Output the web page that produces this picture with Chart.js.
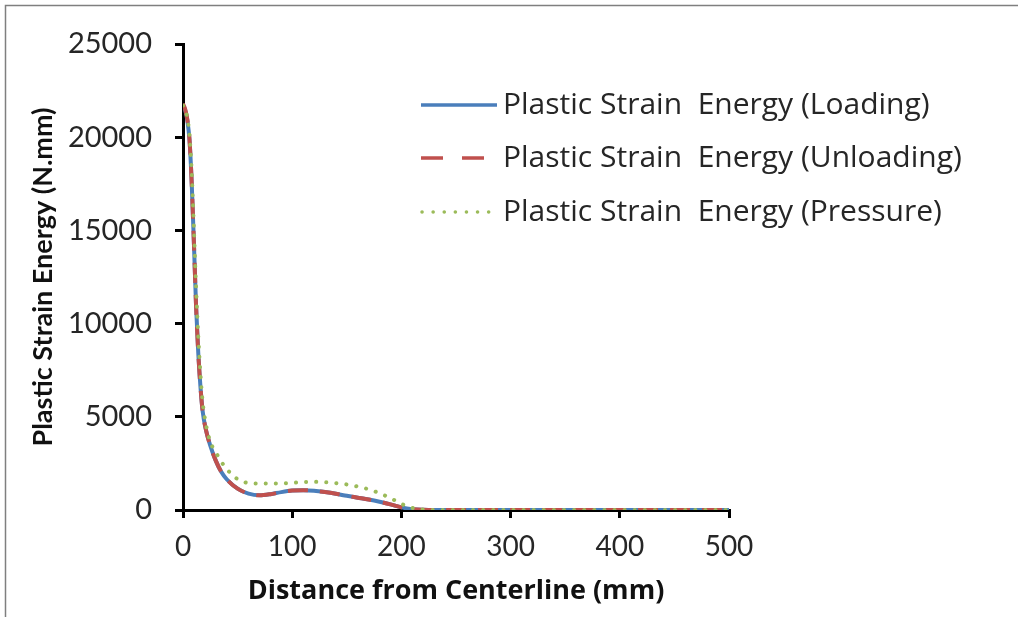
<!DOCTYPE html>
<html>
<head>
<meta charset="utf-8">
<script src="https://cdn.jsdelivr.net/npm/chart.js@4/dist/chart.umd.min.js"></script>
<style>
  html, body { margin: 0; padding: 0; background: #ffffff; }
  #wrap { width: 1018px; height: 617px; position: relative; }
</style>
</head>
<body>
<div id="wrap"><canvas id="chart" width="1018" height="617"></canvas></div>
<script>
// Distance from centerline (mm)
const distance = [0, 2, 4, 6, 8, 10, 12, 14, 16, 18, 21, 25, 30, 35, 40, 50, 60, 70, 80, 90,
                  100, 110, 120, 130, 140, 150, 160, 170, 180, 190, 200, 210, 220, 230, 250,
                  300, 350, 400, 450, 500];

// Plastic strain energy (N.mm)
const loading = [21700, 21450, 20900, 19800, 17500, 14300, 10900, 8400, 6600, 5300, 4300, 3450, 2650, 2050, 1650, 1150, 880, 790, 850, 960,
                 1040, 1060, 1030, 960, 870, 760, 660, 560, 440, 300, 140, 45, 10, 0, 0,
                 0, 0, 0, 0, 0];
const unloading = [21800, 21500, 20950, 19850, 17500, 14300, 10900, 8400, 6600, 5300, 4300, 3450, 2650, 2050, 1650, 1150, 880, 790, 850, 960,
                   1040, 1060, 1030, 960, 870, 760, 660, 560, 440, 300, 140, 45, 10, 0, 0,
                   0, 0, 0, 0, 0];
const pressure = [21700, 21500, 21000, 20100, 18100, 15100, 11900, 9300, 7300, 5800, 4600, 3650, 3100, 2600, 2200, 1650, 1450, 1420, 1420, 1430,
                  1460, 1500, 1510, 1490, 1440, 1370, 1260, 1110, 900, 640, 330, 110, 25, 0, 0,
                  0, 0, 0, 0, 0];

const seriesNames = [
  'Plastic Strain  Energy (Loading)',
  'Plastic Strain  Energy (Unloading)',
  'Plastic Strain  Energy (Pressure)'
];
const xTitle = 'Distance from Centerline (mm)';
const yTitle = 'Plastic Strain Energy (N.mm)';

const TICK_FONT = 'Lato, "Open Sans", sans-serif';
const WIDE_FONT = '"Open Sans", "Noto Sans", sans-serif';
const colors = ['#4A7EBB', '#C0504D', '#9BBB59'];
const dashes = [[], [20, 12], [0.1, 10]];

const toPoints = (ys) => ys.map((y, i) => ({ x: distance[i], y }));

// Border of the figure and the in-plot legend
const figurePlugin = {
  id: 'figureFrame',
  beforeDraw(chart) {
    const ctx = chart.ctx;
    ctx.save();
    ctx.fillStyle = '#ffffff';
    ctx.fillRect(0, 0, chart.width, chart.height);
    ctx.strokeStyle = '#7f7f7f';
    ctx.lineWidth = 1.5;
    ctx.beginPath();
    ctx.moveTo(1018, 5.5);
    ctx.lineTo(5.5, 5.5);
    ctx.lineTo(5.5, 617);
    ctx.stroke();
    ctx.restore();
  },
  afterDraw(chart) {
    const ctx = chart.ctx;
    const rows = [105, 158, 212];
    const samples = [
      { from: 421, to: 497, dash: [] },
      { from: 421, to: 484, dash: [22, 19] },
      { from: 422, to: 490, dash: [0.1, 11] }
    ];
    ctx.save();
    ctx.font = '30px ' + WIDE_FONT;
    ctx.textBaseline = 'middle';
    ctx.textAlign = 'left';
    seriesNames.forEach((name, i) => {
      const y = rows[i];
      const s = samples[i];
      ctx.strokeStyle = colors[i];
      ctx.lineWidth = 3.5;
      ctx.lineCap = i === 2 ? 'round' : 'butt';
      ctx.setLineDash(s.dash);
      ctx.beginPath();
      ctx.moveTo(s.from, y);
      ctx.lineTo(s.to, y);
      ctx.stroke();
      ctx.setLineDash([]);
      ctx.fillStyle = '#262626';
      ctx.fillText(name, 503, y);
    });
    ctx.restore();
  }
};

const datasets = [loading, unloading, pressure].map((ys, i) => ({
  label: seriesNames[i],
  data: toPoints(ys),
  borderColor: colors[i],
  backgroundColor: colors[i],
  borderWidth: 4,
  borderDash: dashes[i],
  borderCapStyle: i === 2 ? 'round' : 'butt',
  pointRadius: 0,
  cubicInterpolationMode: 'monotone',
  fill: false,
  order: 3 - i
}));

new Chart(document.getElementById('chart'), {
  type: 'line',
  data: { datasets },
  plugins: [figurePlugin],
  options: {
    responsive: false,
    animation: false,
    layout: { padding: { left: 0, top: 44, right: 289, bottom: 0 } },
    plugins: {
      legend: { display: false },
      tooltip: { enabled: false }
    },
    scales: {
      x: {
        type: 'linear',
        min: 0,
        max: 500,
        ticks: { stepSize: 100, color: '#262626', font: { family: TICK_FONT, size: 28 }, padding: 12, maxRotation: 0,
                 callback: (v) => String(v) },
        grid: { drawOnChartArea: false, drawTicks: true, tickLength: 8, color: '#000', lineWidth: 3 },
        border: { display: true, color: '#000', width: 3 },
        title: { display: true, text: xTitle, color: '#111', font: { family: WIDE_FONT, size: 27, weight: 'bold' }, padding: { top: 0, bottom: 9 } },
        afterFit(scale) { scale.height = 107; }
      },
      y: {
        min: 0,
        max: 25000,
        ticks: { stepSize: 5000, color: '#262626', font: { family: TICK_FONT, size: 29 }, padding: 23,
                 callback: (v) => String(v) },
        grid: { drawOnChartArea: false, drawTicks: true, tickLength: 8, color: '#000', lineWidth: 3 },
        border: { display: true, color: '#000', width: 3 },
        title: { display: true, text: yTitle, color: '#111', font: { family: TICK_FONT, size: 27, weight: 'bold' }, padding: { top: 27, bottom: 0 } },
        afterFit(scale) { scale.width = 183; }
      }
    }
  }
});
</script>
</body>
</html>
